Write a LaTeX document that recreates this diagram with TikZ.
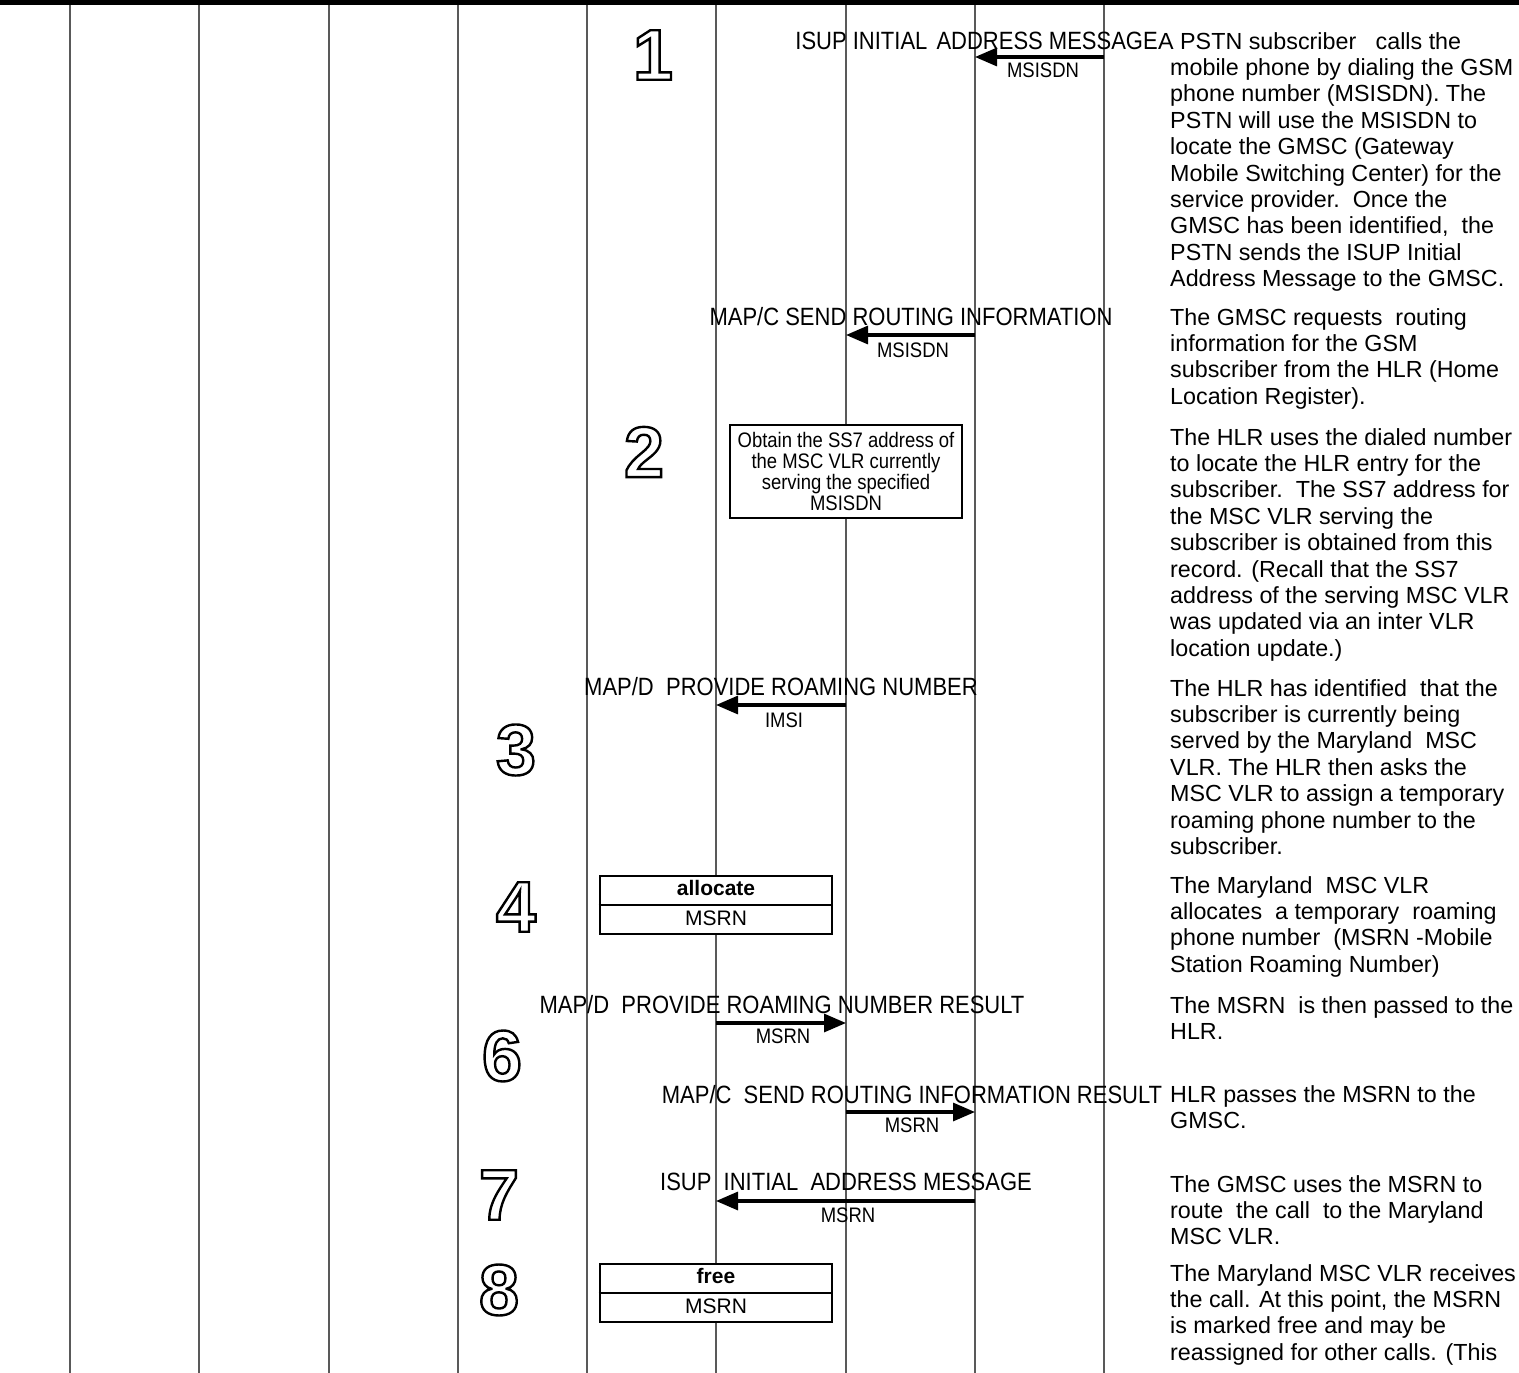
\documentclass[tikz,border=0pt]{standalone}
\usepackage{fontspec}
\setmainfont{Liberation Sans}
\newfontfamily\narrowfont[FakeStretch=0.88]{Liberation Sans}
\usetikzlibrary{arrows.meta,calc}

\tikzset{
  lifeline/.style={line width=1.2pt, black!65},
  msgarrow/.style={line width=3.2pt, -{Triangle[length=22pt,width=18pt]}},
  msglabel/.style={font=\narrowfont\fontsize{25}{27}\selectfont, anchor=base, inner sep=0pt},
  sublabel/.style={font=\narrowfont\fontsize{21}{22}\selectfont, anchor=base, inner sep=0pt},
  desc/.style={font=\fontsize{23.3}{26.4}\selectfont, anchor=base west, inner sep=0pt},
  notebox/.style={draw, line width=2.8pt, fill=white, minimum width=232pt, minimum height=93pt, align=center, inner sep=0pt, font=\narrowfont\fontsize{21}{21}\selectfont},
  statebox/.style={draw, line width=2.8pt, fill=white, minimum width=232pt, minimum height=58pt, inner sep=0pt},
  boxtext/.style={font=\fontsize{21}{22}\selectfont, anchor=base, inner sep=0pt},
  divider/.style={line width=1.4pt},
  numsty/.style={font=\bfseries\fontsize{72}{72}\selectfont, inner sep=0pt},
}

% outlined figure: PDF text rendering mode 1 (stroke only); the node's own
% graphics-state restore puts the mode back afterwards
\newcommand\outl[1]{\special{pdf:code 1 Tr 2.4 w 0 G}#1}

\newcommand\descpara[4]{%
  \foreach \dline [count=\i from 0] in {#4} \node[desc] (#1-\i) at (#2,#3+\i*26.4) {\dline};}

\begin{document}
\begin{tikzpicture}[x=1pt,y=-1pt]
\useasboundingbox (0,0) rectangle (1519,1373);

% lifelines
\foreach \x [count=\i] in {70,199,329,458,587,716,846,975,1104} {
  \coordinate (top\i) at (\x,0);
  \coordinate (bot\i) at (\x,1373);
  \draw[lifeline] (top\i) -- (bot\i);
}
% top border
\coordinate (tl) at (0,2.5);
\coordinate (tr) at (1519,2.5);
\draw[line width=5pt] (tl) -- (tr);

% step numbers
\node[numsty] (n1) at (653,55) {\outl{1}};
\node[numsty] (n2) at (644,452) {\outl{2}};
\node[numsty] (n3) at (516,750) {\outl{3}};
\node[numsty] (n4) at (516,907) {\outl{4}};
\node[numsty] (n6) at (502,1056) {\outl{6}};
\node[numsty] (n7) at (499,1195) {\outl{7}};
\node[numsty] (n8) at (499,1290) {\outl{8}};

% boxes
\node[notebox] (obtain) at (846,471.5) {Obtain the SS7 address of\\the MSC VLR currently\\serving the specified\\MSISDN};

\node[statebox] (alloc) at (716,905) {};
\draw[divider] (alloc.west) -- (alloc.east);
\node[boxtext] (alloctxt) at (716,895) {\bfseries allocate};
\node[boxtext] (allocmsrn) at (716,925) {MSRN};

\node[statebox] (freeb) at (716,1293) {};
\draw[divider] (freeb.west) -- (freeb.east);
\node[boxtext] (freetxt) at (716,1283) {\bfseries free};
\node[boxtext] (freemsrn) at (716,1313) {MSRN};

% arrow end points
\coordinate (a1s) at (1104,57);  \coordinate (a1e) at (975,57);
\coordinate (a2s) at (975,335);  \coordinate (a2e) at (846,335);
\coordinate (a3s) at (846,705);  \coordinate (a3e) at (716,705);
\coordinate (a4s) at (716,1023); \coordinate (a4e) at (846,1023);
\coordinate (a5s) at (846,1112); \coordinate (a5e) at (975,1112);
\coordinate (a7s) at (975,1201); \coordinate (a7e) at (716,1201);

\draw[msgarrow] (a1s) -- (a1e);
\draw[msgarrow] (a2s) -- (a2e);
\draw[msgarrow] (a3s) -- (a3e);
\draw[msgarrow] (a4s) -- (a4e);
\draw[msgarrow] (a5s) -- (a5e);
\draw[msgarrow] (a7s) -- (a7e);

% message labels
\node[msglabel, anchor=base east] (l1) at (1158,49) {ISUP INITIAL\hspace{3pt} ADDRESS MESSAGE};
\node[sublabel] (s1) at (1043,77) {MSISDN};
\node[msglabel] (l2) at (911,325) {MAP/C SEND ROUTING INFORMATION};
\node[sublabel] (s2) at (913,357) {MSISDN};
\node[msglabel] (l3) at (781,695) {MAP/D\ \ PROVIDE ROAMING NUMBER};
\node[sublabel] (s3) at (784,727) {IMSI};
\node[msglabel] (l4) at (782,1013) {MAP/D\ \ PROVIDE ROAMING NUMBER RESULT};
\node[sublabel] (s4) at (783,1043) {MSRN};
\node[msglabel] (l5) at (912,1103) {MAP/C\ \ SEND ROUTING INFORMATION RESULT};
\node[sublabel] (s5) at (912,1132) {MSRN};
\node[msglabel] (l7) at (846,1190) {ISUP\ \ INITIAL\ \ ADDRESS MESSAGE};
\node[sublabel] (s7) at (848,1222) {MSRN};

% descriptions
\node[desc] (p1-first) at (1158,49) {A PSTN subscriber\ \ \ calls the};
\descpara{p1}{1170}{75.4}{{mobile phone by dialing the GSM},{phone number (MSISDN). The},{PSTN will use the MSISDN to},{locate the GMSC (Gateway},{Mobile Switching Center) for the},{service provider.\ \ Once the},{GMSC has been identified,\ \ the},{PSTN sends the ISUP Initial},{Address Message to the GMSC.}}
\descpara{p2}{1170}{325}{{The GMSC requests\ \ routing},{information for the GSM},{subscriber from the HLR (Home},{Location Register).}}
\descpara{p3}{1170}{445}{{The HLR uses the dialed number},{to locate the HLR entry for the},{subscriber.\ \ The SS7 address for},{the MSC VLR serving the},{subscriber is obtained from this},{record. (Recall that the SS7},{address of the serving MSC VLR},{was updated via an inter VLR},{location update.)}}
\descpara{p4}{1170}{696}{{The HLR has identified\ \ that the},{subscriber is currently being},{served by the Maryland\ \ MSC},{VLR. The HLR then asks the},{MSC VLR to assign a temporary},{roaming phone number to the},{subscriber.}}
\descpara{p5}{1170}{893}{{The Maryland\ \ MSC VLR},{allocates\ \ a temporary\ \ roaming},{phone number\ \ (MSRN -Mobile},{Station Roaming Number)}}
\descpara{p6}{1170}{1013}{{The MSRN\ \ is then passed to the},{HLR.}}
\descpara{p7}{1170}{1102}{{HLR passes the MSRN to the},{GMSC.}}
\descpara{p8}{1170}{1192}{{The GMSC uses the MSRN to},{route\ \ the call\ \ to the Maryland},{MSC VLR.}}
\descpara{p9}{1170}{1281}{{The Maryland MSC VLR receives},{the call. At this point, the MSRN},{is marked free and may be},{reassigned for other calls. (This}}
\end{tikzpicture}
\end{document}
